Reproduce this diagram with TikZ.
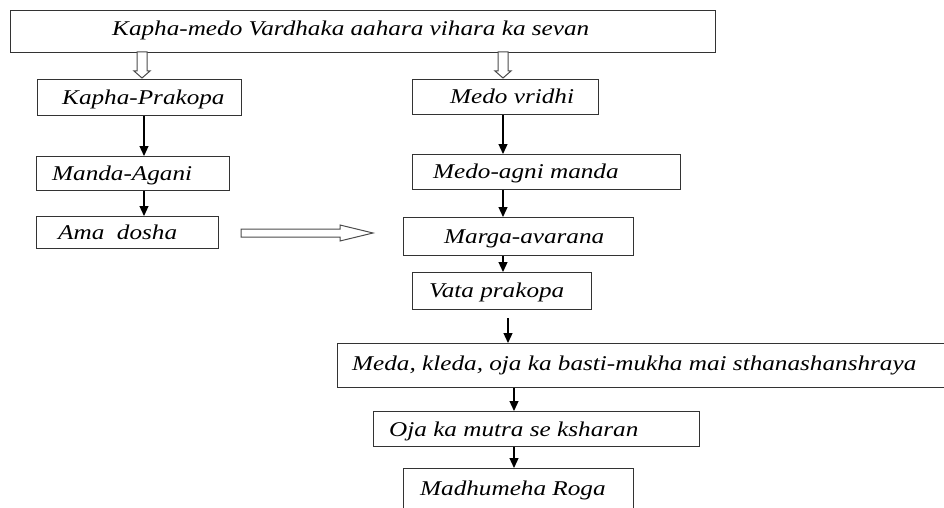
\documentclass[tikz,border=0pt]{standalone}
\usepackage{fontspec}
\newfontfamily\dfont{Liberation Serif}[FakeStretch=1.2]
\usetikzlibrary{arrows.meta}
\begin{document}
\begin{tikzpicture}[x=1pt,y=-1pt,
  box/.style={draw=black!80,line width=1.2pt,rectangle,inner sep=0pt,anchor=north west},
  lbl/.style={font=\dfont\itshape\fontsize{21}{24}\selectfont,text=black,inner sep=0pt,anchor=west,text height=0.68em,text depth=0.22em,yshift=-4pt},
  arr/.style={line width=1.2pt,-{Triangle[width=9pt,length=10pt]}},
  hollow/.style={draw=black!70,line width=1pt,fill=white}]
\useasboundingbox (0,0) rectangle (944,508);
% boxes
\node[box,minimum width=705,minimum height=42] (top) at (10,10) {};
\node[box,minimum width=204,minimum height=36] (kp) at (37,79) {};
\node[box,minimum width=193,minimum height=34] (mag) at (36,156) {};
\node[box,minimum width=182,minimum height=32] (ama) at (36,216) {};
\node[box,minimum width=186,minimum height=35] (mv) at (412,79) {};
\node[box,minimum width=268,minimum height=35] (mam) at (412,154) {};
\node[box,minimum width=230,minimum height=38] (mar) at (403,217) {};
\node[box,minimum width=179,minimum height=37] (vp) at (412,272) {};
\node[box,minimum width=640,minimum height=44] (med) at (337,343) {};
\node[box,minimum width=326,minimum height=35] (oja) at (373,411) {};
\node[box,minimum width=230,minimum height=60] (mr) at (403,468) {};
% labels
\node[lbl] (ttop) at (112,29) {Kapha-medo Vardhaka aahara vihara ka sevan};
\node[lbl] (tkp) at (62,98) {Kapha-Prakopa};
\node[lbl] (tmag) at (52,174) {Manda-Agani};
\node[lbl] (tama) at (58,233) {Ama\ \ dosha};
\node[lbl] (tmv) at (450,97) {Medo vridhi};
\node[lbl] (tmam) at (433,172) {Medo-agni manda};
\node[lbl] (tmar) at (444,237) {Marga-avarana};
\node[lbl] (tvp) at (429,291) {Vata prakopa};
\node[lbl] (tmed) at (352,364) {Meda, kleda, oja ka basti-mukha mai sthanashanshraya};
\node[lbl] (toja) at (389,430) {Oja ka mutra se ksharan};
\node[lbl] (tmr) at (420,489) {Madhumeha Roga};
% x guides
\coordinate (xa) at (144,0);
\coordinate (xb) at (503,0);
\coordinate (xc) at (508,0);
\coordinate (xd) at (514,0);
\coordinate (vpgap) at (508,318);
% solid arrows
\draw[arr] (xa |- kp.south) -- (xa |- mag.north);
\draw[arr] (xa |- mag.south) -- (xa |- ama.north);
\draw[arr] (xb |- mv.south) -- (xb |- mam.north);
\draw[arr] (xb |- mam.south) -- (xb |- mar.north);
\draw[arr] (xb |- mar.south) -- (xb |- vp.north);
\draw[arr] (vpgap) -- (xc |- med.north);
\draw[arr] (xd |- med.south) -- (xd |- oja.north);
\draw[arr] (xd |- oja.south) -- (xd |- mr.north);
% hollow down arrows
\draw[hollow] (137,52) -- (147,52) -- (147,71) -- (150,71) -- (142,78) -- (134,71) -- (137,71) -- cycle;
\draw[hollow] (498,52) -- (508,52) -- (508,71) -- (511,71) -- (503,78) -- (495,71) -- (498,71) -- cycle;
% hollow right arrow
\coordinate (ha) at (241,233);
\coordinate (hb) at (373,233);
\draw[hollow] (ha) ++(0,-4) -- (340,229) -- (340,225) -- (hb) -- (340,241) -- (340,237) -- (241,237) -- cycle;
\end{tikzpicture}
\end{document}
